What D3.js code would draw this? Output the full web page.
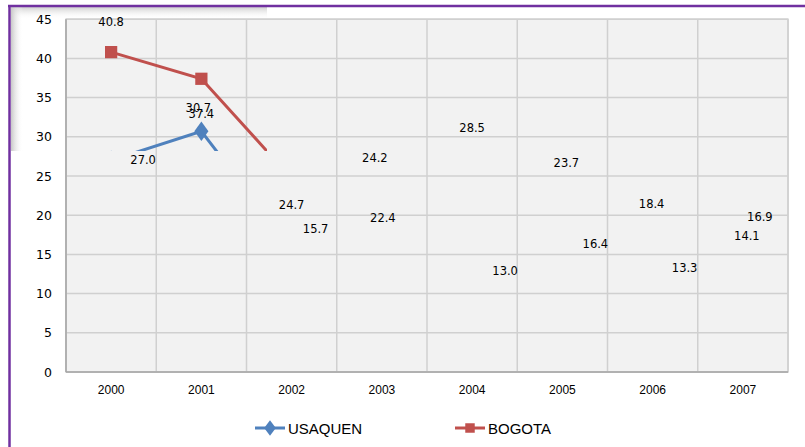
<!DOCTYPE html>
<html><head><meta charset="utf-8">
<script src="https://cdn.jsdelivr.net/npm/d3@7"></script>
<style>
html,body{margin:0;padding:0;background:#fff;}
svg{display:block;font-family:"DejaVu Sans",Verdana,sans-serif;}
</style></head>
<body>
<svg id="c" width="805" height="447"></svg>
<script>
const years = ["2000","2001","2002","2003","2004","2005","2006","2007"];
const usaquen = [27.0, 30.7, 15.7, 22.4, 13.0, 16.4, 13.3, 14.1];
const bogota  = [40.8, 37.4, 24.7, 24.2, 28.5, 23.7, 18.4, 16.9];
const yTicks  = [0, 5, 10, 15, 20, 25, 30, 35, 40, 45];
const seriesNames = ["USAQUEN", "BOGOTA"];
// label nudges (pixels) relative to each point
const usaquenLabelDx = [32, -3, 24, 1, 33, 33, 32, 4];
const usaquenLabelDy = [0, -23, -20, 22, 1, 1, 0, -25];
const bogotaLabelDx  = [0, 0, 0, -7, 0, 4, -1, 17];
const bogotaLabelDy  = [-30, 35, 27, -24, -21, -23, -24, -23];

const svg = d3.select("#c");
const W = 805, H = 447;
const plot = {l: 66, r: 788, t: 19.2, b: 372};
const colors = {USAQUEN: "#4f81bd", BOGOTA: "#c0504d"};
const fDeja = "'DejaVu Sans',Verdana,sans-serif";
const fNarrow = "'Liberation Sans Narrow','Arial Narrow','Liberation Sans',sans-serif";
const fSans = "'Liberation Sans',Arial,sans-serif";

const x = d3.scaleBand().domain(years).range([plot.l, plot.r]);
const y = d3.scaleLinear().domain([0, 45]).range([plot.b, plot.t]);
const cx = d => x(d) + x.bandwidth() / 2;

const defs = svg.append("defs");
const gTop = defs.append("linearGradient").attr("id","gTop").attr("x1",0).attr("y1",0).attr("x2",0).attr("y2",1);
gTop.append("stop").attr("offset","0%").attr("stop-color","#cfcfcf");
gTop.append("stop").attr("offset","100%").attr("stop-color","#ffffff").attr("stop-opacity",0);
const gLeft = defs.append("linearGradient").attr("id","gLeft").attr("x1",0).attr("y1",0).attr("x2",1).attr("y2",0);
gLeft.append("stop").attr("offset","0%").attr("stop-color","#c8c8c8");
gLeft.append("stop").attr("offset","100%").attr("stop-color","#ffffff").attr("stop-opacity",0);
defs.append("clipPath").attr("id","clipBox").append("rect")
  .attr("x", 11).attr("y", 7).attr("width", 256).attr("height", 144);

// box with inner shadow (top-left region)
svg.append("rect").attr("x",11).attr("y",7).attr("width",256).attr("height",144).attr("fill","#fff");
svg.append("rect").attr("x",11).attr("y",7).attr("width",256).attr("height",12).attr("fill","url(#gTop)");
svg.append("rect").attr("x",11).attr("y",7).attr("width",12).attr("height",144).attr("fill","url(#gLeft)");

// purple frame
svg.append("line").attr("x1",8).attr("x2",W).attr("y1",6).attr("y2",6)
  .attr("stroke","#7030a0").attr("stroke-width",2.5);
svg.append("line").attr("x1",9.5).attr("x2",9.5).attr("y1",5).attr("y2",H)
  .attr("stroke","#7030a0").attr("stroke-width",2.5);

// plot area
svg.append("rect").attr("x",plot.l).attr("y",plot.t).attr("width",plot.r-plot.l).attr("height",plot.b-plot.t)
  .attr("fill","#f2f2f2").attr("stroke","#d0d0d0").attr("stroke-width",1.5);

// horizontal gridlines
svg.append("g").selectAll("line").data(yTicks).join("line")
  .attr("x1",plot.l).attr("x2",plot.r).attr("y1",d=>y(d)).attr("y2",d=>y(d))
  .attr("stroke","#d0d0d0").attr("stroke-width",1.5);
// vertical gridlines
const vx = years.map(d => x(d)).concat([plot.r]);
svg.append("g").selectAll("line").data(vx).join("line")
  .attr("x1",d=>d).attr("x2",d=>d).attr("y1",plot.t).attr("y2",plot.b)
  .attr("stroke","#d0d0d0").attr("stroke-width",1.5);
// axes lines
svg.append("line").attr("x1",plot.l).attr("x2",plot.r).attr("y1",plot.b).attr("y2",plot.b).attr("stroke","#a6a6a6").attr("stroke-width",1.5);
svg.append("line").attr("x1",plot.l).attr("x2",plot.l).attr("y1",plot.t).attr("y2",plot.b).attr("stroke","#a6a6a6").attr("stroke-width",1.5);

// y tick labels
const yAxis = d3.axisLeft(y).tickValues(yTicks).tickSize(0).tickPadding(14);
const ya = svg.append("g").attr("transform",`translate(${plot.l},0)`).call(yAxis);
ya.select(".domain").remove();
ya.selectAll("text").attr("font-size",12.5).attr("fill","#000").attr("font-family",fDeja);

// x tick labels
const xAxis = d3.axisBottom(x).tickSize(0).tickPadding(13);
const xa = svg.append("g").attr("transform",`translate(0,${plot.b})`).call(xAxis);
xa.select(".domain").remove();
xa.selectAll("text").attr("font-size",12).attr("fill","#000").attr("font-family",fNarrow);

// lines (clipped)
const line = d3.line().x((d,i)=>cx(years[i])).y(d=>y(d));
const clipG = svg.append("g").attr("clip-path","url(#clipBox)");
const diamond = d3.symbol().type(d3.symbolDiamond).size(110);
const square = d3.symbol().type(d3.symbolSquare).size(150);

clipG.append("path").datum(bogota).attr("d",line).attr("fill","none")
  .attr("stroke",colors.BOGOTA).attr("stroke-width",3);
clipG.append("path").datum(usaquen).attr("d",line).attr("fill","none")
  .attr("stroke",colors.USAQUEN).attr("stroke-width",3);
clipG.selectAll(".mb").data(bogota).join("path").attr("class","mb")
  .attr("d",square).attr("transform",(d,i)=>`translate(${cx(years[i])},${y(d)})`)
  .attr("fill",colors.BOGOTA);
clipG.selectAll(".mu").data(usaquen).join("path").attr("class","mu")
  .attr("d",diamond).attr("transform",(d,i)=>`translate(${cx(years[i])},${y(d)}) scale(1.25,1)`)
  .attr("fill",colors.USAQUEN);

// data labels
function labels(vals, dxs, dys){
  svg.append("g").selectAll("text").data(vals).join("text")
    .attr("x",(d,i)=>cx(years[i])+dxs[i]).attr("y",(d,i)=>y(d)+dys[i])
    .attr("text-anchor","middle").attr("dominant-baseline","central")
    .attr("font-size",11.5).attr("font-family",fDeja).attr("fill","#000").text(d=>d.toFixed(1));
}
labels(usaquen, usaquenLabelDx, usaquenLabelDy);
labels(bogota, bogotaLabelDx, bogotaLabelDy);

// legend
const leg = svg.append("g").attr("transform","translate(0,428)");
const legX = [255, 455];
seriesNames.forEach((n,i)=>{
  const g = leg.append("g").attr("transform",`translate(${legX[i]},0)`);
  g.append("line").attr("x1",0).attr("x2",30).attr("y1",0).attr("y2",0).attr("stroke",colors[n]).attr("stroke-width",3);
  g.append("path").attr("d", i===0 ? d3.symbol().type(d3.symbolDiamond).size(70)() : d3.symbol().type(d3.symbolSquare).size(90)())
    .attr("transform", i===0 ? "translate(15,0) scale(1.3,1)" : "translate(15,0)").attr("fill",colors[n]);
  g.append("text").attr("x",33).attr("y",0).attr("dominant-baseline","central")
    .attr("font-size",15).attr("font-family",fSans).attr("fill","#000").text(n);
});
</script>
</body></html>
